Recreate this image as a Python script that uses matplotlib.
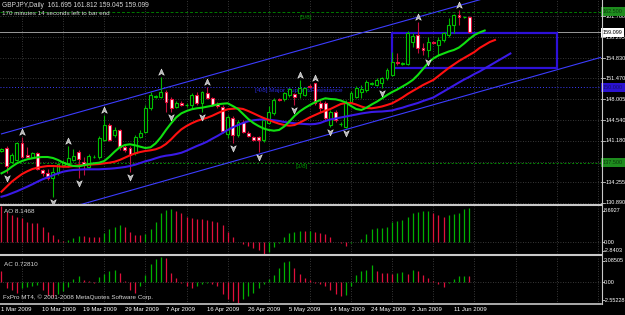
import matplotlib
matplotlib.use('Agg')
import matplotlib.pyplot as plt
from matplotlib.patches import Rectangle
from matplotlib.lines import Line2D
from matplotlib.path import Path
from matplotlib.transforms import blended_transform_factory

# ---------------- data ----------------
opens = [139.51, 139.90, 137.68, 137.97, 140.83, 138.79, 138.51, 139.07, 136.31, 135.86,
         134.93, 135.76, 137.14, 137.42, 137.97, 139.34, 137.68, 136.86, 138.46, 138.41,
         141.28, 143.71, 142.11, 142.93, 140.17, 139.90, 139.07, 141.72, 142.65, 146.53,
         148.48, 148.45, 149.28, 148.02, 146.80, 147.46, 147.00, 147.08, 148.73, 147.36,
         149.12, 148.19, 147.24, 146.80, 142.27, 144.87, 142.11, 144.31, 142.49, 141.83,
         141.73, 141.28, 144.05, 145.70, 148.07, 148.02, 148.73, 148.90, 149.02, 148.73,
         150.23, 150.67, 147.41, 147.36, 143.76, 145.97, 143.85, 143.48, 147.62, 148.45,
         149.23, 149.56, 150.59, 150.39, 150.67, 151.50, 152.05, 154.25, 153.90, 153.87,
         157.52, 158.68, 156.47, 156.19, 157.47, 157.02, 157.85, 158.68, 160.33, 161.99,
         161.63, 161.695]
highs = [139.95, 140.28, 139.07, 141.00, 141.82, 140.17, 139.21, 139.29, 136.47, 136.42,
         136.86, 137.47, 137.97, 140.28, 139.79, 139.62, 138.51, 138.96, 138.79, 141.94,
         145.42, 144.10, 143.48, 143.18, 140.45, 140.28, 142.11, 142.93, 147.07, 149.28,
         148.73, 151.77, 149.56, 148.40, 147.74, 147.66, 147.41, 149.02, 149.28, 149.48,
         150.11, 148.40, 147.57, 147.08, 145.42, 145.25, 144.59, 144.59, 142.69, 142.02,
         141.94, 144.87, 146.91, 148.19, 148.24, 149.23, 149.89, 149.02, 151.22, 150.06,
         150.55, 150.75, 147.91, 147.74, 146.25, 146.25, 144.26, 147.91, 149.40, 150.23,
         150.39, 151.22, 150.89, 151.55, 151.72, 153.21, 155.86, 155.64, 154.20, 159.34,
         159.01, 160.88, 157.30, 158.40, 157.60, 158.40, 159.22, 161.44, 162.16, 162.82,
         161.82, 161.812]
lows = [139.29, 135.76, 137.42, 137.80, 138.29, 138.24, 138.38, 136.31, 135.31, 134.65,
        131.88, 135.48, 136.80, 136.86, 137.80, 135.03, 135.48, 136.64, 138.30, 138.21,
        141.11, 141.11, 141.83, 139.62, 139.29, 136.03, 138.79, 141.56, 142.39, 146.25,
        148.32, 148.19, 145.97, 145.87, 146.58, 146.91, 146.75, 146.53, 147.16, 145.87,
        147.99, 146.91, 146.58, 142.44, 141.56, 140.73, 141.78, 142.44, 141.78, 141.11,
        139.24, 141.00, 143.85, 145.42, 147.74, 147.82, 148.45, 147.08, 148.19, 148.57,
        149.89, 147.08, 145.92, 144.59, 143.43, 144.26, 143.60, 143.31, 147.41, 148.24,
        148.19, 149.31, 150.39, 150.23, 149.84, 151.22, 151.88, 153.70, 153.70, 153.70,
        156.69, 155.64, 155.36, 154.95, 157.18, 155.36, 157.52, 158.40, 158.96, 160.33,
        161.57, 159.045]
closes = [139.74, 136.97, 138.79, 140.73, 138.51, 138.51, 139.07, 136.42, 135.76, 135.03,
          136.03, 137.25, 137.63, 138.25, 138.63, 138.08, 137.14, 138.68, 138.54, 141.56,
          143.76, 141.28, 142.93, 140.17, 139.62, 138.79, 141.72, 142.49, 146.63, 148.73,
          148.57, 149.28, 147.63, 146.53, 147.46, 147.08, 147.16, 148.73, 147.36, 149.28,
          148.19, 147.08, 146.91, 142.77, 145.09, 142.11, 144.31, 142.65, 141.94, 141.28,
          141.28, 144.59, 145.97, 147.91, 147.91, 149.02, 149.68, 148.40, 149.84, 149.84,
          150.06, 147.36, 146.58, 144.87, 145.97, 144.59, 144.01, 147.36, 149.02, 149.84,
          149.73, 150.94, 150.72, 151.22, 151.50, 152.87, 154.25, 153.99, 154.04, 158.96,
          158.51, 156.47, 156.19, 157.57, 157.35, 157.85, 158.96, 160.33, 161.99, 161.71,
          161.74, 159.099]

# Alligator lines (already shifted forward on the chart)
lips_green = [135.76, 136.19, 136.85, 137.42, 137.80, 138.08, 138.25, 138.41, 138.46, 138.46,
              138.30, 137.97, 137.52, 137.19, 136.97, 136.92, 137.09, 137.30, 137.42, 137.52,
              137.80, 138.51, 139.34, 140.07, 140.45, 140.57, 140.40, 140.17, 139.95, 140.07,
              140.73, 141.73, 142.94, 144.05, 145.04, 145.70, 146.08, 146.37, 146.53, 146.63,
              146.80, 146.96, 147.19, 147.29, 147.36, 146.91, 146.42, 145.59, 144.76, 144.10,
              143.60, 143.18, 142.94, 142.82, 142.94, 143.52, 144.34, 145.26, 146.00, 146.58,
              147.08, 147.53, 147.91, 148.19, 148.07, 148.02, 147.82, 147.49, 146.91, 146.42,
              146.25, 146.63, 147.16, 147.62, 148.16, 148.73, 149.23, 149.65, 150.14, 150.64,
              151.22, 152.05, 153.04, 154.04, 154.78, 155.28, 155.61, 155.94, 156.19, 156.60,
              157.27, 158.01, 158.68, 159.09, 159.42]
teeth_red = [132.71, 133.54, 134.37, 135.03, 135.64, 136.09, 136.47, 136.69, 136.85, 136.97,
             136.97, 136.92, 136.85, 136.85, 136.97, 137.09, 137.14, 137.19, 137.25, 137.30,
             137.42, 137.52, 137.68, 137.97, 138.35, 138.74, 139.07, 139.29, 139.46, 139.57,
             139.74, 140.07, 140.62, 141.39, 142.27, 143.05, 143.60, 144.05, 144.43, 144.71,
             144.97, 145.30, 145.70, 146.08, 146.37, 146.46, 146.53, 146.42, 146.08, 145.70,
             145.30, 144.92, 144.59, 144.26, 143.98, 143.76, 143.65, 143.76, 144.15, 144.59,
             145.04, 145.42, 145.80, 146.13, 146.42, 146.83, 147.24, 147.41, 147.41, 147.16,
             146.83, 146.58, 146.53, 146.66, 146.83, 147.08, 147.36, 147.82, 148.32, 148.90,
             149.40, 149.89, 150.39, 150.81, 151.22, 151.88, 152.55, 153.21, 153.79, 154.37,
             154.87, 155.36, 155.86, 156.52, 157.02, 157.52, 157.85]
jaw_blue = [131.88, 132.12, 132.45, 132.78, 133.16, 133.54, 133.94, 134.37, 134.77, 135.10,
            135.43, 135.76, 136.03, 136.19, 136.31, 136.36, 136.42, 136.42, 136.42, 136.42,
            136.47, 136.52, 136.59, 136.69, 136.80, 136.97, 137.19, 137.47, 137.75, 137.97,
            138.25, 138.51, 138.68, 138.79, 138.96, 139.17, 139.51, 139.90, 140.28, 140.62,
            141.00, 141.49, 141.94, 142.44, 142.94, 143.38, 143.76, 144.10, 144.38, 144.54,
            144.64, 144.71, 144.64, 144.54, 144.43, 144.26, 144.15, 144.05, 143.98, 143.93,
            143.88, 143.93, 144.10, 144.43, 144.68, 144.84, 145.01, 145.17, 145.34, 145.50,
            145.67, 145.80, 145.92, 145.97, 146.00, 146.08, 146.17, 146.42, 146.63, 146.91,
            147.16, 147.41, 147.74, 148.02, 148.32, 148.82, 149.31, 149.81, 150.31, 150.81,
            151.30, 151.72, 152.21, 152.63, 153.13, 153.62, 154.12, 154.62, 155.11, 155.61]

fractal_up = [4, 13, 20, 31, 40, 58, 61, 81, 89]
fractal_down = [1, 10, 15, 25, 33, 39, 45, 50, 57, 64, 67, 74, 83]

ao_values = [8.69, 7.34, 6.54, 6.13, 5.73, 4.93, 4.69, 4.53, 3.73, 2.37,
             1.73, 0.77, 0.37, 0.53, 0.93, 1.49, 1.41, 1.33, 1.25, 1.17,
             2.13, 3.09, 3.73, 4.13, 3.57, 2.53, 1.73, 1.65, 1.89, 3.09,
             4.93, 6.94, 7.74, 7.90, 7.50, 6.94, 5.97, 5.73, 5.65, 5.49,
             5.41, 5.17, 4.93, 4.13, 2.53, 1.17, 0.13, -0.35, -0.91, -1.47,
             -1.87, -2.84, -2.27, -1.07, -0.27, 1.17, 2.13, 2.53, 2.77, 2.61,
             2.69, 2.53, 2.29, 1.97, 1.17, 0.13, -0.27, -0.91, -0.11, 0.13,
             0.69, 1.89, 3.09, 3.33, 3.49, 3.73, 4.93, 5.17, 5.33, 6.13,
             6.94, 7.34, 7.42, 7.50, 7.10, 6.54, 5.97, 6.54, 6.78, 7.10,
             7.90, 8.1468]
ac_values = [1.30, -0.72, -0.94, -1.25, -0.72, -0.63, -0.49, -0.36, -0.94, -1.52,
             -1.83, -1.39, -1.07, -0.58, 0.40, 0.72, 0.27, 0.18, -0.04, 0.63,
             0.98, 1.30, 1.43, 1.07, 0.18, -0.94, -1.25, -0.49, 0.85, 2.19,
             2.77, 3.085, 2.86, 1.07, 0.54, -0.04, -0.49, -0.72, -0.49, -0.27,
             -0.13, -0.27, -0.49, -1.39, -2.06, -2.28, -2.552, -2.06, -1.70, -1.25,
             -0.72, -0.27, 0.40, 0.85, 1.74, 2.41, 2.55, 1.74, 0.98, 0.54,
             0.27, -0.04, -0.18, -0.49, -0.94, -1.39, -1.70, -1.52, -0.49, 0.85,
             1.30, 1.52, 2.06, 1.30, 1.16, 1.07, 0.98, 1.16, 1.25, 0.98,
             1.52, 1.30, 0.85, 0.54, 0.18, -0.27, -0.63, -0.04, 0.40, 0.72,
             0.80, 0.7281]

price_ticks = [161.760, 158.295, 154.830, 151.470, 148.005, 144.540, 141.180, 134.255, 130.890]
price_labels = ['161.760', '158.295', '154.830', '151.470', '148.005', '144.540', '141.180', '134.255', '130.890']
hidden_tick = 137.715  # tick whose label sits under the 137.500 box
date_bars = [0, 8, 16, 24, 32, 40, 48, 56, 64, 72, 80, 88]
date_labels = ['1 Mar 2009', '10 Mar 2009', '19 Mar 2009', '29 Mar 2009', '7 Apr 2009', '16 Apr 2009',
               '26 Apr 2009', '5 May 2009', '14 May 2009', '24 May 2009', '2 Jun 2009', '11 Jun 2009']
grid_bars = [4, 12, 20, 28, 36, 44, 52, 60, 68, 76, 84, 92, 100, 108, 116]

murrey_levels = [162.5, 150.0, 137.5]
bid_price = 159.099
box_bars = (76.0, 108.0)
box_prices = (153.16, 158.96)
upper_channel = ((0, 142.29), (116.63, 170.15))
lower_channel = ((0, 126.87), (116.63, 154.98))

ao_min, ao_max = -2.8403, 8.6927
ac_min, ac_max = -2.55228, 3.08505

# ---------------- figure ----------------
W, H = 625, 315
plt.rcParams['font.family'] = ['Liberation Sans', 'DejaVu Sans']

fig = plt.figure(figsize=(W / 100, H / 100), dpi=100, facecolor='black')


def rect(x0, y0, x1, y1):
    return [x0 / W, 1 - y1 / H, (x1 - x0) / W, (y1 - y0) / H]


XL = (-0.29, 116.63)
ax = fig.add_axes(rect(0, 0, 601, 204))
ax_ao = fig.add_axes(rect(0, 206, 601, 254))
ax_ac = fig.add_axes(rect(0, 256.5, 601, 303.5))
for a in (ax, ax_ao, ax_ac):
    a.set_facecolor('black')
    a.set_xlim(*XL)
    for s in a.spines.values():
        s.set_visible(False)
    a.set_xticks([])
    a.set_yticks([])
ax.set_ylim(130.675, 164.475)
ax_ao.set_ylim(ao_min, ao_max)
ax_ac.set_ylim(ac_min, ac_max)

GRID = dict(color='#4a4a4a', lw=0.6, ls=(0, (1, 2)), zorder=0)
for a in (ax, ax_ao, ax_ac):
    for gx in grid_bars:
        a.axvline(gx, **GRID)
for p in price_ticks + [hidden_tick]:
    ax.axhline(p, **GRID)
ax_ao.axhline(0, **GRID)
ax_ac.axhline(0, **GRID)

# murrey lines
ax.axhline(murrey_levels[0], color='#007a00', lw=0.7, ls=(0, (3, 2)), zorder=1)
ax.axhline(murrey_levels[1], color='#3c3cff', lw=0.7, ls=(0, (1, 2)), zorder=1)
ax.axhline(murrey_levels[2], color='#008a00', lw=0.7, ls=(0, (2, 2)), zorder=1)
ax.text(58.0, 161.65, '[5/8]', color='#008a00', fontsize=4.6, va='center', ha='left', zorder=1)
ax.text(49.3, 149.45, '[4/8] Major Support/Resistance', color='#2a2ad8', fontsize=4.6,
        va='center', ha='left', zorder=1)
ax.text(57.2, 136.95, '[3/8]', color='#008a00', fontsize=4.6, va='center', ha='left', zorder=1)

# bid line
ax.axhline(bid_price, color='#9a9a9a', lw=0.7, zorder=1)

# channel lines
for (x0, y0), (x1, y1) in (upper_channel, lower_channel):
    ax.plot([x0, x1], [y0, y1], color='#3c3cff', lw=0.8, zorder=1)

# rectangle
ax.add_patch(Rectangle((box_bars[0], box_prices[0]), box_bars[1] - box_bars[0],
                       box_prices[1] - box_prices[0], fill=False, edgecolor='#2d10d8',
                       lw=1.6, zorder=1.5))

# candles
for i, (o, h, l, c) in enumerate(zip(opens, highs, lows, closes)):
    bull = c >= o
    wick = '#00b400' if bull else '#c0103c'
    ax.plot([i, i], [l, h], color=wick, lw=0.8, zorder=2, solid_capstyle='butt')
    bottom = min(o, c)
    hgt = max(abs(c - o), 0.03)
    ax.add_patch(Rectangle((i - 0.28, bottom), 0.56, hgt,
                           facecolor='black' if bull else 'white',
                           edgecolor='#00c000' if bull else '#e8103c', lw=0.8, zorder=2.5))

# alligator
ax.plot(range(len(jaw_blue)), jaw_blue, color='#3a1ae6', lw=1.5, zorder=3)
ax.plot(range(len(teeth_red)), teeth_red, color='#ff1010', lw=1.5, zorder=3.1)
ax.plot(range(len(lips_green)), lips_green, color='#10e010', lw=1.5, zorder=3.2)

# fractals
codes = [Path.MOVETO, Path.LINETO, Path.LINETO, Path.LINETO, Path.CLOSEPOLY]
up_path = Path([(0, 1), (0.8, -0.8), (0, -0.3), (-0.8, -0.8), (0, 1)], codes)
dn_path = Path([(0, -1), (0.8, 0.8), (0, 0.3), (-0.8, 0.8), (0, -1)], codes)
off = 0.83
ax.plot(fractal_up, [highs[i] + off for i in fractal_up], ls='none', marker=up_path, ms=5,
        mfc='#b4b4b4', mec='#f0f0f0', mew=0.4, zorder=5)
ax.plot(fractal_down, [lows[i] - off for i in fractal_down], ls='none', marker=dn_path, ms=5,
        mfc='#b4b4b4', mec='#f0f0f0', mew=0.4, zorder=5)


# histograms
def hist(a, vals):
    cols = ['#e0103c' if (i == 0 or vals[i] <= vals[i - 1]) else '#00b000' for i in range(len(vals))]
    a.vlines(range(len(vals)), 0, vals, colors=cols, lw=0.9, zorder=2)


hist(ax_ao, ao_values)
hist(ax_ac, ac_values)


# figure-level separators
def fline(x0, y0, x1, y1, **kw):
    fig.add_artist(Line2D([x0 / W, x1 / W], [1 - y0 / H, 1 - y1 / H], transform=fig.transFigure, **kw))


fline(0, 205, 601, 205, color='#c8c8c8', lw=1.5)
fline(0, 255.3, 601, 255.3, color='#c8c8c8', lw=1.5)
fline(0, 304.3, 601, 304.3, color='#c8c8c8', lw=1.2)
fline(601.5, 0, 601.5, 304.3, color='#c8c8c8', lw=0.8)


def ftext(xp, yp, s, **kw):
    fig.text(xp / W, 1 - yp / H, s, **kw)


AXFS = 4.0
# right price axis
ytr = ax.get_yaxis_transform()
for p in price_ticks + [hidden_tick]:
    ax.plot([1.0, 1.006], [p, p], transform=ytr, color='#c8c8c8', lw=0.6, clip_on=False)
for p, lab in zip(price_ticks, price_labels):
    ax.text(1.008, p, lab, transform=ytr, color='white', fontsize=AXFS, va='center', ha='left',
            clip_on=False)


def box(p, s, fc, tc):
    ax.text(1.003, p, s, transform=ytr, color=tc, fontsize=AXFS, va='center', ha='left',
            clip_on=False, zorder=10,
            bbox=dict(boxstyle='square,pad=0.35', fc=fc, ec='none'))


box(162.5, '162.500', '#1e8c1e', '#0a3a0a')
box(bid_price, '159.099', 'white', 'black')
box(150.0, '150.000', '#2a12d0', '#14106a')
box(137.5, '137.500', '#1e8c1e', '#0a3a0a')

# indicator scales
for yp, s in ((210.5, '8.6927'), (242.2, '0.00'), (250.5, '-2.8403'),
              (261.0, '3.08505'), (282.2, '0.00'), (300.0, '-2.55228')):
    ftext(604, yp, s, color='white', fontsize=AXFS, va='center', ha='left')
    fline(601.5, yp, 604, yp, color='#c8c8c8', lw=0.6)

# titles
TC = '#d8d8d8'
ftext(2.5, 5.5, 'GBPJPY,Daily  161.695 161.812 159.045 159.099', color=TC, fontsize=4.8,
      va='center', ha='left')
ftext(2.5, 13.8, '170 minutes 14 seconds left to bar end', color=TC, fontsize=4.5,
      va='center', ha='left')
ftext(4, 211.5, 'AO 8.1468', color=TC, fontsize=4.6, va='center', ha='left')
ftext(4, 264.5, 'AC 0.72810', color=TC, fontsize=4.6, va='center', ha='left')
ftext(3, 297.5, 'FxPro MT4, \u00a9 2001-2008 MetaQuotes Software Corp.', color=TC,
      fontsize=4.5, va='center', ha='left')

# date labels
btr = blended_transform_factory(ax_ac.transData, fig.transFigure)
for b, lab in zip(date_bars, date_labels):
    ax_ac.text(b - 0.05, 1 - 309.8 / H, lab, transform=btr, color='white', fontsize=4.3,
               va='center', ha='left', clip_on=False)

fig.savefig('out.png', dpi=100, facecolor='black')
